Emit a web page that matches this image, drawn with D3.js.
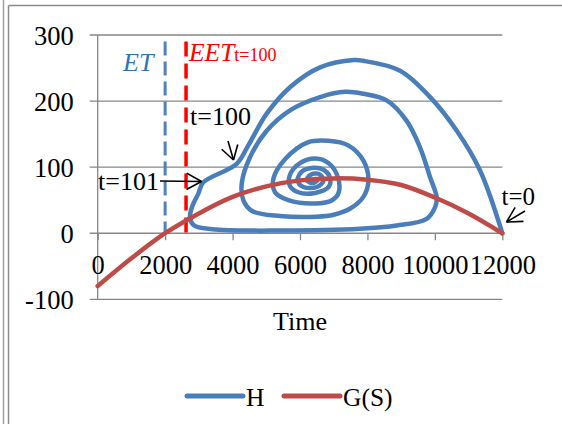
<!DOCTYPE html>
<html><head><meta charset="utf-8">
<script src="https://cdn.jsdelivr.net/npm/d3@7"></script>
<style>
html,body{margin:0;padding:0;background:#fff;}
svg{display:block;}
text{font-family:"Liberation Serif","Times New Roman",serif;}
</style></head>
<body>
<svg id="chart" width="562" height="424" font-family="Liberation Serif, Times New Roman, serif"></svg>
<script>
// ---- data ----
const xTicks = [0, 2000, 4000, 6000, 8000, 10000, 12000];
const yTicks = [-100, 0, 100, 200, 300];

// H trajectory (in order from t=0)
const hX = [12000, 11340, 10650, 9860, 8967, 7870, 7600, 6596, 5704, 5012, 4467, 4122,
  3132, 2984, 2800, 2738, 2850, 3400, 5407, 7780, 8868, 9758, 10004, 10054,
  9856, 9559, 9164, 8571, 7878, 7335, 6596, 5704, 5012, 4517, 4271, 4319, 4567, 5400, 6500, 7000, 7480, 7880,
  8030, 7880, 7430, 6840, 6250, 5555, 5209, 5259, 5653, 6445, 6950, 7150,
  7100, 6850, 6454, 6000, 5700, 5700, 5950, 6450, 6850, 6890, 6700, 6400, 6050, 5930, 6100, 6500, 6700, 6550, 6300, 6200, 6400, 6550];
const hY = [0, 95, 155, 206, 246, 261, 262, 251, 221, 181, 133, 105,
  77, 60, 40, 24, 12, 6, 4, 6.6, 11.6, 21.8, 39, 54,
  85, 130, 170, 201, 211, 214, 206, 186, 155, 115, 75, 50, 34, 26, 25, 28, 37, 55,
  80, 110, 133, 140, 138, 112, 82, 62, 50, 45, 50, 62,
  88, 106, 113, 106, 88, 72, 62, 61, 70, 84, 96, 99, 93, 80, 70, 70, 80, 90, 88, 80, 76, 82];

// G(S) curve
const gX = [0, 1000, 2000, 3000, 4000, 5000, 6000, 7000, 8000, 9000, 10000, 11000, 12000];
const gY = [-80, -38, 0, 30, 55, 71, 80, 83, 81, 73, 54, 30, 0];

const etTime = 2000;
const eetTime = 2620;
const seriesNames = ["H", "G(S)"];

// ---- drawing ----
const FONT = "Liberation Serif, Times New Roman, serif";
const svg = d3.select("#chart");
const blue = "#4A7EBB", red = "#BE4B48", grid = "#878787";
const x = d3.scaleLinear().domain([0, 12000]).range([97.7, 502.3]);
const y = d3.scaleLinear().domain([-100, 300]).range([299.3, 35]);

// outer frame
svg.append("line").attr("x1", 3.5).attr("x2", 3.5).attr("y1", 0).attr("y2", 424).attr("stroke", "#a0a0a0").attr("stroke-width", 1.5);
svg.append("line").attr("x1", 8.5).attr("x2", 8.5).attr("y1", 5.5).attr("y2", 424).attr("stroke", "#8a8a8a").attr("stroke-width", 1.5);
svg.append("line").attr("x1", 8.5).attr("x2", 562).attr("y1", 5.5).attr("y2", 5.5).attr("stroke", "#8a8a8a").attr("stroke-width", 1.5);

// gridlines (including tick marks)
svg.append("g").selectAll("line").data(yTicks).join("line")
  .attr("x1", x(0) - 8).attr("x2", x(12000))
  .attr("y1", d => y(d)).attr("y2", d => y(d))
  .attr("stroke", grid).attr("stroke-width", 1.3);

// y axis
const yAx = svg.append("g").attr("transform", `translate(${x(0)},0)`)
  .call(d3.axisLeft(y).tickValues(yTicks).tickSize(8).tickPadding(16).tickFormat(d => String(d)));
yAx.attr("font-family", FONT).attr("font-size", 26.5);
yAx.select(".domain").remove();
yAx.selectAll("line").remove();
yAx.selectAll("text").attr("fill", "#000").attr("dy", "0.36em");
svg.append("line").attr("x1", x(0)).attr("x2", x(0)).attr("y1", y(300)).attr("y2", y(-100))
  .attr("stroke", grid).attr("stroke-width", 1.3);

// x axis at 0
const xAx = svg.append("g").attr("transform", `translate(0,${y(0)})`)
  .call(d3.axisBottom(x).tickValues(xTicks).tickSize(7).tickPadding(15).tickFormat(d => String(d)));
xAx.attr("font-family", FONT).attr("font-size", 26.5);
xAx.select(".domain").remove();
xAx.selectAll("line").attr("stroke", grid).attr("stroke-width", 1.3);
xAx.selectAll("text").attr("fill", "#000");

// axis title
svg.append("text").attr("x", (x(0) + x(12000)) / 2).attr("y", 330).attr("text-anchor", "middle")
  .attr("font-size", 26).text("Time");

// vertical dashed lines
svg.append("line").attr("x1", x(etTime)).attr("x2", x(etTime)).attr("y1", 41.5).attr("y2", y(0))
  .attr("stroke", "#4F81BD").attr("stroke-width", 3).attr("stroke-dasharray", "14,6");
svg.append("line").attr("x1", x(eetTime)).attr("x2", x(eetTime)).attr("y1", 41.5).attr("y2", y(0))
  .attr("stroke", "#FF0000").attr("stroke-width", 3.5).attr("stroke-dasharray", "15,7");

// series
const hPts = hX.map((v, i) => [v, hY[i]]);
const gPts = gX.map((v, i) => [v, gY[i]]);
const line = d3.line().x(d => x(d[0])).y(d => y(d[1])).curve(d3.curveCatmullRom.alpha(0.5));
svg.append("path").attr("d", line(hPts)).attr("fill", "none").attr("stroke", blue)
  .attr("stroke-width", 4.5).attr("stroke-linejoin", "round").attr("stroke-linecap", "round");
svg.append("path").attr("d", line(gPts)).attr("fill", "none").attr("stroke", red)
  .attr("stroke-width", 4.5).attr("stroke-linejoin", "round").attr("stroke-linecap", "round");

// annotations
svg.append("text").attr("x", 123).attr("y", 71).attr("font-size", 26).attr("font-style", "italic")
  .attr("fill", "#2E75B6").text("ET");
const eet = svg.append("text").attr("x", 189).attr("y", 61).attr("fill", "#FF0000");
eet.append("tspan").attr("font-size", 25.5).attr("font-style", "italic").text("EET");
eet.append("tspan").attr("font-size", 18).text("t=100");

svg.append("text").attr("x", 190).attr("y", 125).attr("font-size", 26).text("t=100");
svg.append("text").attr("x", 98).attr("y", 190).attr("font-size", 26).text("t=101");
svg.append("text").attr("x", 501.5).attr("y", 205).attr("font-size", 25).text("t=0");

function arrow(x1, y1, x2, y2, len, ang) {
  const a = Math.atan2(y1 - y2, x1 - x2);
  const g = svg.append("g").attr("stroke", "#000").attr("stroke-width", 1.6).attr("fill", "none");
  g.append("line").attr("x1", x1).attr("y1", y1).attr("x2", x2).attr("y2", y2);
  [a + ang, a - ang].forEach(b => {
    g.append("line").attr("x1", x2).attr("y1", y2)
      .attr("x2", x2 + len * Math.cos(b)).attr("y2", y2 + len * Math.sin(b));
  });
}
arrow(228, 141, 233.5, 160, 16, 0.55);
arrow(160, 181, 201.5, 181.5, 17, 0.5);
arrow(525, 211, 506.5, 222, 17, 0.5);

// legend
const leg = svg.append("g");
const legItems = [{name: seriesNames[0], c: blue, x0: 187}, {name: seriesNames[1], c: red, x0: 284}];
legItems.forEach(it => {
  leg.append("line").attr("x1", it.x0).attr("x2", it.x0 + 56).attr("y1", 396).attr("y2", 396)
    .attr("stroke", it.c).attr("stroke-width", 5).attr("stroke-linecap", "round");
  leg.append("text").attr("x", it.x0 + 59).attr("y", 405.5).attr("font-size", 25.5).text(it.name);
});
</script>
</body></html>
